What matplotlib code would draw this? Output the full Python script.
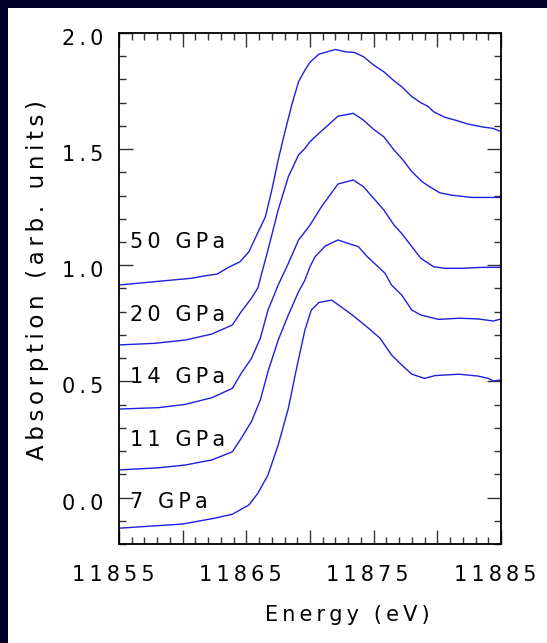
import matplotlib
matplotlib.use('Agg')
import matplotlib.pyplot as plt
import matplotlib.transforms as mtransforms
from matplotlib.patches import Rectangle
from matplotlib.ticker import MultipleLocator, FuncFormatter

# ---- data ----
e50 = [11855.0, 11859.1, 11860.7, 11861.8, 11862.7, 11863.6, 11864.5, 11865.2, 11865.9, 11866.5,
       11867.0, 11867.5, 11868.0, 11868.6, 11869.1, 11869.6, 11870.0, 11870.7, 11872.0, 11872.8,
       11873.5, 11874.2, 11875.0, 11875.8, 11876.6, 11877.2, 11878.0, 11878.7, 11879.3, 11879.7,
       11880.6, 11881.4, 11882.4, 11883.5, 11884.4, 11885.0]
a50 = [0.915, 0.936, 0.944, 0.955, 0.962, 0.991, 1.015, 1.058, 1.140, 1.209,
       1.324, 1.453, 1.568, 1.697, 1.790, 1.840, 1.874, 1.909, 1.929, 1.919,
       1.916, 1.898, 1.862, 1.833, 1.794, 1.769, 1.726, 1.700, 1.683, 1.661,
       1.637, 1.625, 1.608, 1.596, 1.589, 1.575]

e20 = [11855.0, 11857.8, 11860.2, 11862.3, 11863.9, 11864.6, 11865.4, 11865.9, 11866.7, 11867.5,
       11868.3, 11869.1, 11869.6, 11870.0, 11870.7, 11872.2, 11873.4, 11874.2, 11875.0, 11875.8,
       11876.6, 11877.2, 11878.0, 11878.8, 11879.4, 11880.2, 11881.1, 11882.7, 11885.0]
a20 = [0.657, 0.664, 0.678, 0.704, 0.743, 0.800, 0.858, 0.902, 1.066, 1.238,
       1.381, 1.475, 1.503, 1.532, 1.568, 1.642, 1.654, 1.625, 1.585, 1.553,
       1.496, 1.460, 1.403, 1.360, 1.338, 1.312, 1.302, 1.292, 1.292]

e14 = [11855.0, 11858.1, 11860.2, 11862.3, 11863.9, 11864.6, 11865.4, 11866.1, 11866.7, 11867.5,
       11868.3, 11869.1, 11869.6, 11870.0, 11870.9, 11872.2, 11873.4, 11874.2, 11875.0, 11875.8,
       11876.6, 11877.2, 11878.0, 11878.7, 11879.7, 11880.6, 11881.9, 11883.5, 11885.0]
a14 = [0.381, 0.387, 0.401, 0.430, 0.470, 0.535, 0.599, 0.686, 0.807, 0.915,
       1.008, 1.109, 1.144, 1.173, 1.252, 1.350, 1.367, 1.338, 1.288, 1.238,
       1.173, 1.137, 1.080, 1.030, 0.994, 0.987, 0.987, 0.991, 0.991]

e11 = [11855.0, 11858.1, 11860.2, 11862.3, 11863.9, 11864.6, 11865.4, 11866.1, 11866.7, 11867.5,
       11868.3, 11869.1, 11869.6, 11870.0, 11870.4, 11871.2, 11872.2, 11873.0, 11873.8, 11874.5,
       11875.2, 11875.9, 11876.4, 11877.2, 11878.0, 11878.7, 11880.1, 11881.7, 11883.2, 11884.4,
       11885.0]
a11 = [0.119, 0.128, 0.140, 0.162, 0.197, 0.255, 0.327, 0.420, 0.542, 0.678,
       0.786, 0.886, 0.936, 0.994, 1.037, 1.083, 1.109, 1.094, 1.080, 1.037,
       1.001, 0.965, 0.915, 0.872, 0.807, 0.786, 0.767, 0.772, 0.769, 0.760,
       0.769]

e7 = [11855.0, 11860.0, 11862.5, 11863.9, 11865.2, 11865.9, 11866.7, 11867.5, 11868.3, 11869.0,
      11869.6, 11870.1, 11870.7, 11871.7, 11872.8, 11873.5, 11874.6, 11875.5, 11876.4, 11877.2,
      11878.0, 11879.0, 11879.8, 11881.7, 11883.2, 11884.0, 11884.4, 11885.0]
a7 = [-0.132, -0.114, -0.089, -0.072, -0.032, 0.018, 0.097, 0.226, 0.384, 0.571,
      0.721, 0.807, 0.840, 0.850, 0.807, 0.778, 0.729, 0.686, 0.614, 0.571,
      0.531, 0.513, 0.525, 0.531, 0.523, 0.513, 0.502, 0.506]

series_labels = ["50 GPa", "20 GPa", "14 GPa", "11 GPa", "7 GPa"]
label_x = 11855.9
label_y = [1.100, 0.786, 0.519, 0.248, -0.018]
xtick_labels = [11855, 11865, 11875, 11885]
ytick_labels = [0.0, 0.5, 1.0, 1.5, 2.0]

TS = '\u2009'


def spaced(s):
    return TS.join(s)


W, H = 547, 643
fig = plt.figure(figsize=(W / 100, H / 100), dpi=100)
fig.patch.set_facecolor('#00002b')
fig.add_artist(Rectangle((8 / W, 0), 1, 1 - 8 / H, transform=fig.transFigure,
                         facecolor='white', edgecolor='none', zorder=0))

ax = fig.add_axes([119 / W, 1 - 544 / H, (501 - 119) / W, (544 - 33) / H])
ax.set_facecolor('white')

line_color = '#1f1fe0'
for e, a in [(e50, a50), (e20, a20), (e14, a14), (e11, a11), (e7, a7)]:
    ax.plot(e, a, color=line_color, lw=1.0)

for lab, y in zip(series_labels, label_y):
    ax.text(label_x, y, spaced(lab), ha='left', va='center', fontsize=15, color='black')

ax.set_xlim(11855, 11885)
ax.set_ylim(-0.2, 2.0)

ax.xaxis.set_major_locator(MultipleLocator(5))
ax.xaxis.set_minor_locator(MultipleLocator(1))
ax.yaxis.set_major_locator(MultipleLocator(0.5))
ax.yaxis.set_minor_locator(MultipleLocator(0.1))


def xfmt(v, pos):
    iv = int(round(v))
    if iv in xtick_labels:
        return spaced(str(iv))
    return ''


def yfmt(v, pos):
    for t in ytick_labels:
        if abs(v - t) < 1e-6:
            return spaced('%.1f' % t)
    return ''


ax.xaxis.set_major_formatter(FuncFormatter(xfmt))
ax.yaxis.set_major_formatter(FuncFormatter(yfmt))

ax.tick_params(which='both', direction='in', top=True, right=True, colors='#333333',
               labelcolor='black')
ax.tick_params(which='major', length=10, width=1.0, labelsize=15)
ax.tick_params(axis='x', which='major', pad=15)
ax.tick_params(axis='y', which='major', pad=11)
ax.tick_params(which='minor', length=5, width=1.0)

for sp in ax.spines.values():
    sp.set_linewidth(1.3)
    sp.set_color('black')

dx = mtransforms.ScaledTranslation(-6 / 100, 0, fig.dpi_scale_trans)
for lbl in ax.get_xticklabels():
    lbl.set_transform(lbl.get_transform() + dx)
dy = mtransforms.ScaledTranslation(0, -4 / 100, fig.dpi_scale_trans)
for lbl in ax.get_yticklabels():
    lbl.set_transform(lbl.get_transform() + dy)

fig.text(347 / W, 1 - 615 / H, spaced("Energy (eV)"), ha='center', va='center', fontsize=15)
fig.text(38 / W, 1 - 280 / H, spaced("Absorption (arb. units)"), ha='center', va='center',
         fontsize=16.5, rotation=90)

fig.savefig('out.png', dpi=100, facecolor=fig.get_facecolor())
